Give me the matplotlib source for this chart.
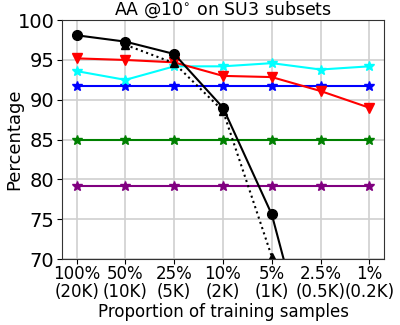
import numpy as np
import matplotlib
matplotlib.use('Agg')
import matplotlib.pyplot as plt

# Tick labels along the x axis
proportions = ['100%\n(20K)', '50%\n(10K)', '25%\n(5K)', '10%\n(2K)',
               '5%\n(1K)', '2.5%\n(0.5K)', '1%\n(0.2K)']

# Series values (percentage)
solid_black = [98.1, 97.3, 95.75, 89.0, 75.6, 52.5, 35.0]
dotted_black = [np.nan, 96.9, 94.6, 88.6, 70.3, 45.0, 25.0]
red_vals = [95.2, 95.0, 94.7, 93.0, 92.85, 91.1, 89.0]
cyan_vals = [93.6, 92.5, 94.2, 94.2, 94.6, 93.8, 94.2]
blue_vals = [91.7, 91.7, 91.7, 91.7, 91.7, 91.7, 91.7]
green_vals = [85.0, 85.0, 85.0, 85.0, 85.0, 85.0, 85.0]
purple_vals = [79.2, 79.2, 79.2, 79.2, 79.2, 79.2, 79.2]

x = np.arange(len(proportions))

fig = plt.figure(figsize=(4, 3.25), dpi=100)
ax = fig.add_axes([0.155, 0.203, 0.805, 0.735])

ax.plot(x, purple_vals, color='purple', marker='*', markersize=7, linewidth=1.5)
ax.plot(x, green_vals, color='green', marker='*', markersize=7, linewidth=1.5)
ax.plot(x, blue_vals, color='blue', marker='*', markersize=7, linewidth=1.5)
ax.plot(x, cyan_vals, color='cyan', marker='*', markersize=7, linewidth=1.5)
ax.plot(x, red_vals, color='red', marker='v', markersize=7, linewidth=1.5)
ax.plot(x, dotted_black, color='black', marker='^', markersize=6, linewidth=1.5, linestyle=':')
ax.plot(x, solid_black, color='black', marker='o', markersize=7, linewidth=1.5)

ax.set_xlim(-0.3, 6.3)
ax.set_ylim(70, 100)
ax.set_xticks(x)
ax.set_xticklabels(proportions, fontsize=12, linespacing=1.0)
ax.set_yticks([70, 75, 80, 85, 90, 95, 100])
ax.tick_params(axis='y', labelsize=14, pad=2)
ax.tick_params(axis='x', pad=1)
ax.grid(color='#d0d0d0', linewidth=1.2)
ax.set_axisbelow(True)
for s in ax.spines.values():
    s.set_color('#333333')

ax.set_xlabel('Proportion of training samples', fontsize=12, labelpad=1)
ax.set_ylabel('Percentage', fontsize=13)
ax.yaxis.set_label_coords(-0.12, 0.5)
ax.set_title('AA @10$^{\\circ}$ on SU3 subsets', fontsize=12.5, pad=3)

fig.savefig('out.png', dpi=100)
